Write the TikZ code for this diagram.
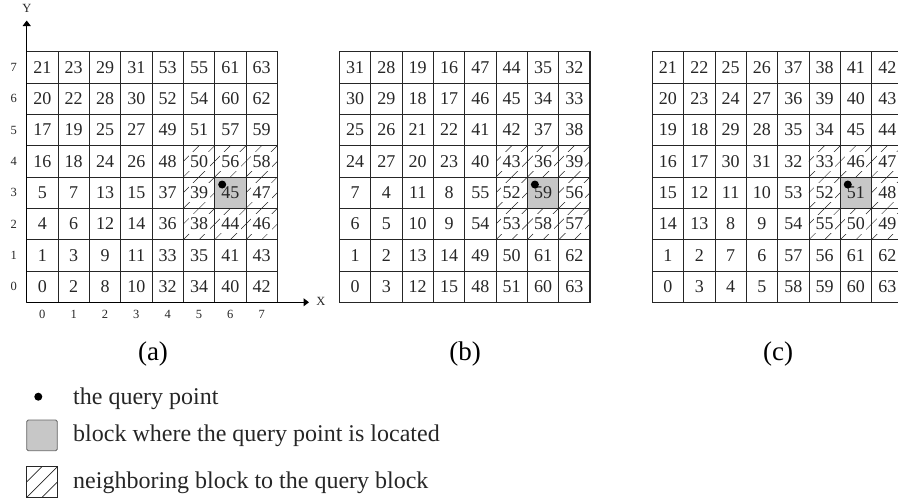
\documentclass[tikz,border=0pt]{standalone}
\usepackage{fontspec}
\setmainfont{Liberation Serif}
\usetikzlibrary{arrows.meta}
\newcommand\cs{31.33}
\newcommand\blockgrid[3]{%
\begin{scope}[shift={(#2,51.7)}]
 \begin{scope}
  \clip (5*\cs,3*\cs) rectangle (8*\cs,6*\cs);
  \foreach \t in {-6,...,6}
    \draw[hatchline] ({(5+\t/2)*\cs},{6*\cs}) -- ++({3*\cs},{-3*\cs});
 \end{scope}
 \fill[qblock] ({6*\cs},{4*\cs}) rectangle ({7*\cs},{5*\cs});
 \foreach \rowlist [count=\ri] in {#3}{
   \foreach \n [count=\ci] in \rowlist{
     \pgfmathtruncatemacro\hh{(\ci>5)*(\ri>3)*(\ri<7)*(1-(\ci==7)*(\ri==5))}
     \ifnum\hh=1 \def\fc{white}\else\def\fc{none}\fi
     \node[cellnum, fill=\fc] (#1-\ci-\ri) at ({(\ci-0.5)*\cs},{(\ri-0.5)*\cs}) {\n};
   }}
 \foreach \k in {1,...,7}{
   \draw[gridline] ({\k*\cs},0) -- ({\k*\cs},{8*\cs});
   \draw[gridline] (0,{\k*\cs}) -- ({8*\cs},{\k*\cs});}
 \draw[outerline] (0,0) rectangle ({8*\cs},{8*\cs});
 \node[qdot] (#1-q) at ({6*\cs+7.5},{4*\cs+7.5}) {};
\end{scope}}
\begin{document}
\begin{tikzpicture}[x=1pt,y=-1pt,
  gridline/.style={line width=0.8pt, draw=black!85},
  outerline/.style={line width=1.2pt, draw=black!85},
  cellnum/.style={font=\fontsize{18}{18}\selectfont, inner xsep=1.5pt, inner ysep=3.5pt, text=black!85},
  axislabel/.style={font=\fontsize{12.5}{12.5}\selectfont, text=black!85},
  caption/.style={font=\fontsize{27}{27}\selectfont},
  legendtext/.style={font=\fontsize{24}{24}\selectfont, anchor=base west, inner sep=0pt, text=black!85},
  qdot/.style={circle, fill=black, inner sep=0pt, minimum size=8pt},
  hatchline/.style={line width=0.5pt, draw=black!85},
  qblock/.style={fill=black!22},
  axisarrow/.style={line width=1pt, -{Triangle[length=5.5pt,width=8pt]}}]
\useasboundingbox (0,0) rectangle (898,501);
\clip (0,0) rectangle (898,501);
% grid (a)
\blockgrid{a}{26.7}{{21,23,29,31,53,55,61,63},{20,22,28,30,52,54,60,62},{17,19,25,27,49,51,57,59},{16,18,24,26,48,50,56,58},{5,7,13,15,37,39,45,47},{4,6,12,14,36,38,44,46},{1,3,9,11,33,35,41,43},{0,2,8,10,32,34,40,42}}
% grid (b)
\blockgrid{b}{339.4}{{31,28,19,16,47,44,35,32},{30,29,18,17,46,45,34,33},{25,26,21,22,41,42,37,38},{24,27,20,23,40,43,36,39},{7,4,11,8,55,52,59,56},{6,5,10,9,54,53,58,57},{1,2,13,14,49,50,61,62},{0,3,12,15,48,51,60,63}}
% grid (c)
\blockgrid{c}{652.3}{{21,22,25,26,37,38,41,42},{20,23,24,27,36,39,40,43},{19,18,29,28,35,34,45,44},{16,17,30,31,32,33,46,47},{15,12,11,10,53,52,51,48},{14,13,8,9,54,55,50,49},{1,2,7,6,57,56,61,62},{0,3,4,5,58,59,60,63}}
% axes of (a)
\coordinate (origin) at (26.7,302.3);
\coordinate (ytip) at (26.7,20.5);
\coordinate (xtip) at (309,302.3);
\draw[axisarrow] (origin) -- (ytip);
\draw[axisarrow] (origin) -- (xtip);
\node[axislabel] (ylab) at (27,8.5) {Y};
\node[axislabel] (xlab) at (321,301.5) {X};
\foreach \k in {0,...,7}{
  \node[axislabel] (row\k) at (13.8,{51.7+(7.5-\k)*\cs}) {\k};
  \node[axislabel] (col\k) at ({26.7+(\k+0.5)*\cs},314) {\k};
}
% captions
\node[caption] (capa) at (153,354) {(a)};
\node[caption] (capb) at (465,354) {(b)};
\node[caption] (capc) at (778,354) {(c)};
% legend
\node[qdot] (legdot) at (38.3,396.7) {};
\node[legendtext] (legt1) at (73,404) {the query point};
\draw[black!60, line width=0.8pt, fill=black!22, rounded corners=1.5pt] (26.7,420) rectangle (57.3,450.7);
\node[legendtext] (legt2) at (73,441.7) {block where the query point is located};
\begin{scope}
  \clip (26.7,466.7) rectangle (57.3,497.3);
  \foreach \t in {-1,0,1}
    \draw[hatchline, line width=0.7pt] ({26.7+\t*15.3},497.3) -- ++(30.6,-30.6);
\end{scope}
\draw[black!85, line width=0.8pt] (26.7,466.7) rectangle (57.3,497.3);
\node[legendtext] (legt3) at (73,488.3) {neighboring block to the query block};
\end{tikzpicture}
\end{document}
